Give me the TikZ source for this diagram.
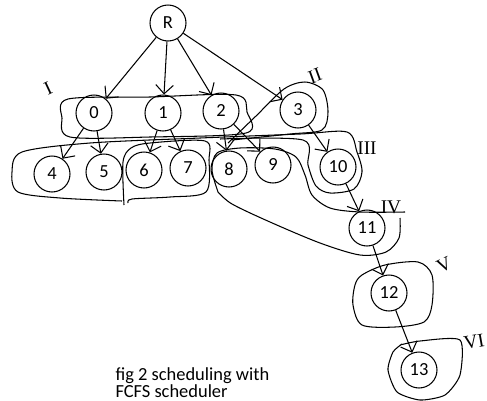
\documentclass[tikz,border=0pt]{standalone}
\usepackage{fontspec}
\setmainfont{Carlito}
\newfontfamily\romanfont{Liberation Serif}
\usetikzlibrary{arrows.meta}

\begin{document}
\begin{tikzpicture}[x=0.02cm, y=-0.02cm, line width=0.6pt,
    task/.style={draw, circle, minimum size=0.72cm, inner sep=0pt,
        font=\fontsize{10.5}{12}\selectfont},
    dep/.style={-{Straight Barb[length=5pt,width=10pt]}},
    group/.style={line width=0.6pt},
    level/.style={font=\romanfont\fontsize{11}{12}\selectfont}]

\useasboundingbox (0,0) rectangle (487,400);

% ---- Tasks ----
\node[task] (R) at (168,23) {R};
\foreach \name/\px/\py in {
    0/94/113, 1/163/113, 2/221/111, 3/298/110,
    4/52/174, 5/104/172, 6/144/170, 7/188/168,
    8/229/169, 9/273/165, 10/338/167,
    11/367/228, 12/389/293, 13/419/370
}{
    \node[task] (n\name) at (\px,\py) {\name};
}

% ---- Dependencies ----
\foreach \a/\b in {R/n0, R/n1, R/n2, R/n3,
    n0/n4, n0/n5, n1/n6, n1/n7, n2/n8, n2/n9,
    n3/n10, n10/n11, n11/n12, n12/n13}{
    \draw[dep] (\a) -- (\b);
}

% ---- Scheduling groups (hand drawn) ----
% I: tasks 0, 1, 2
\draw[group] plot[smooth cycle, tension=0.5] coordinates {
    (68,99) (150,97) (236,95) (247,112) (246,133) (150,137) (70,137) (62,118)};
% II: task 3
\draw[group] plot[smooth, tension=0.5] coordinates {
    (228,143) (256,116) (284,89) (305,82) (323,90) (328,112) (322,130) (290,134) (232,140)};
% tasks 4, 5 and III: task 10
\draw[group] plot[smooth, tension=0.5] coordinates {
    (122,201) (60,198) (18,192) (12,172) (22,152) (90,143) (200,138)
    (300,134) (347,132) (357,152) (362,172) (354,189) (330,193) (316,186)
    (308,165) (303,140) (220,139)};
% tasks 6, 7
\draw[group] plot[smooth, tension=0.5] coordinates {
    (124,205) (123,162) (131,148) (150,143) (205,141) (209,160) (206,192)
    (170,197) (132,199) (128,203)};
% IV: tasks 8, 9, 11
\draw[group] plot[smooth, tension=0.5] coordinates {
    (218,192) (212,170) (217,153) (240,148) (275,149) (296,157) (305,175)
    (312,195) (330,208) (360,212) (405,212)};
\draw[group] plot[smooth, tension=0.5] coordinates {
    (400,218) (399,238) (386,252) (360,255) (320,243) (270,222) (232,204) (218,192)};
% V: task 12
\draw[group] plot[smooth cycle, tension=0.5] coordinates {
    (362,275) (385,265) (418,262) (432,275) (432,305) (424,322) (395,327)
    (362,325) (353,305) (355,285)};
% VI: task 13
\draw[group] plot[smooth, tension=0.4] coordinates {
    (400,345) (420,341) (460,340) (460,375) (445,395) (420,400) (397,392)
    (388,370) (393,352) (402,344)};

% Level labels
\node[level, rotate=25] (lvI) at (48,88) {I};
\node[level, rotate=20] (lvII) at (315,76) {II};
\node[level] (lvIII) at (367,148) {III};
\node[level] (lvIV) at (391,207) {IV};
\node[level, rotate=25] (lvV) at (444,265) {V};
\node[level, rotate=10] (lvVI) at (474,342) {VI};

% Caption
\node[anchor=north west, align=left, inner sep=0pt,
    font=\fontsize{10.5}{9.6}\selectfont] (caption) at (115,367)
    {fig 2 scheduling with\\FCFS scheduler};

\end{tikzpicture}
\end{document}
